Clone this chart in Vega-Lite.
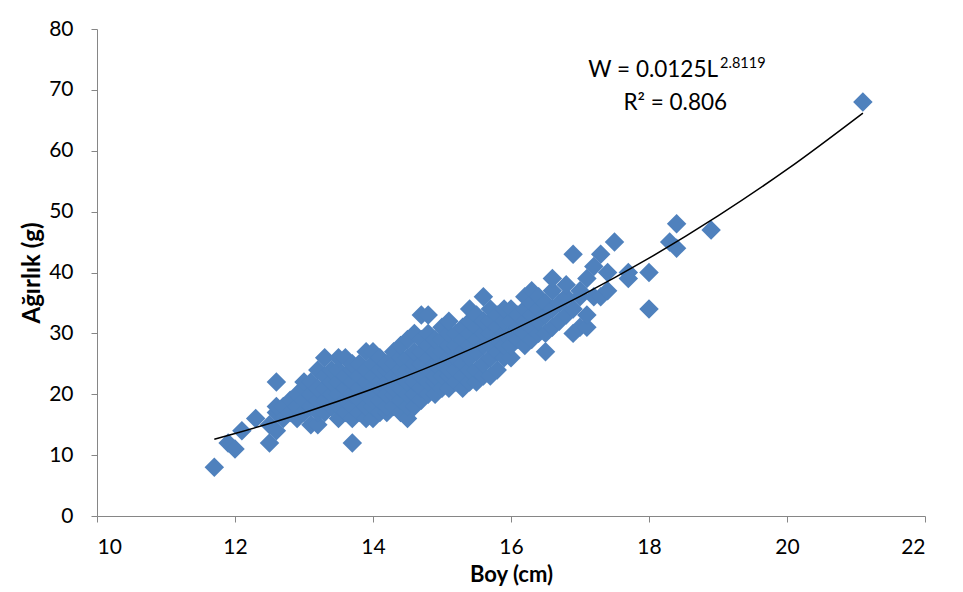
{
  "$schema": "https://vega.github.io/schema/vega-lite/v6.json",
  "width": 828,
  "height": 487,
  "autosize": {"type": "none"},
  "padding": {"left": 97, "top": 29, "right": 38, "bottom": 76},
  "background": "white",
  "config": {
    "view": {"stroke": null},
    "font": "Lato",
    "axis": {
      "grid": false,
      "domainColor": "#868686",
      "tickColor": "#868686",
      "tickSize": 6,
      "labelFont": "Lato",
      "labelFontSize": 21,
      "labelColor": "#000000",
      "titleFont": "Lato",
      "titleFontWeight": "bold",
      "titleColor": "#000000"
    }
  },
  "datasets": {
    "fish": [
      {"L": 11.7, "W": 8}, {"L": 11.9, "W": 12}, {"L": 12.0, "W": 11}, {"L": 12.1, "W": 14}, {"L": 12.3, "W": 16},
      {"L": 12.5, "W": 12}, {"L": 12.5, "W": 15},
      {"L": 12.6, "W": 14}, {"L": 12.6, "W": 17}, {"L": 12.6, "W": 18}, {"L": 12.6, "W": 22},
      {"L": 12.7, "W": 16}, {"L": 12.7, "W": 18},
      {"L": 12.8, "W": 17}, {"L": 12.8, "W": 19},
      {"L": 12.9, "W": 16}, {"L": 12.9, "W": 18}, {"L": 12.9, "W": 20},
      {"L": 13.0, "W": 17}, {"L": 13.0, "W": 19}, {"L": 13.0, "W": 21}, {"L": 13.0, "W": 22},
      {"L": 13.1, "W": 15}, {"L": 13.1, "W": 18}, {"L": 13.1, "W": 20}, {"L": 13.1, "W": 22},
      {"L": 13.2, "W": 15}, {"L": 13.2, "W": 17}, {"L": 13.2, "W": 19}, {"L": 13.2, "W": 21}, {"L": 13.2, "W": 24},
      {"L": 13.3, "W": 17}, {"L": 13.3, "W": 19}, {"L": 13.3, "W": 21}, {"L": 13.3, "W": 23}, {"L": 13.3, "W": 26},
      {"L": 13.4, "W": 18}, {"L": 13.4, "W": 20}, {"L": 13.4, "W": 22}, {"L": 13.4, "W": 24},
      {"L": 13.5, "W": 16}, {"L": 13.5, "W": 18}, {"L": 13.5, "W": 20}, {"L": 13.5, "W": 22}, {"L": 13.5, "W": 24}, {"L": 13.5, "W": 26},
      {"L": 13.6, "W": 17}, {"L": 13.6, "W": 19}, {"L": 13.6, "W": 21}, {"L": 13.6, "W": 23}, {"L": 13.6, "W": 26},
      {"L": 13.7, "W": 12}, {"L": 13.7, "W": 16}, {"L": 13.7, "W": 18}, {"L": 13.7, "W": 20}, {"L": 13.7, "W": 22}, {"L": 13.7, "W": 24}, {"L": 13.7, "W": 25},
      {"L": 13.8, "W": 17}, {"L": 13.8, "W": 19}, {"L": 13.8, "W": 21}, {"L": 13.8, "W": 23}, {"L": 13.8, "W": 25},
      {"L": 13.9, "W": 16}, {"L": 13.9, "W": 18}, {"L": 13.9, "W": 20}, {"L": 13.9, "W": 22}, {"L": 13.9, "W": 24}, {"L": 13.9, "W": 27},
      {"L": 14.0, "W": 16}, {"L": 14.0, "W": 18}, {"L": 14.0, "W": 19}, {"L": 14.0, "W": 21}, {"L": 14.0, "W": 23}, {"L": 14.0, "W": 25}, {"L": 14.0, "W": 27},
      {"L": 14.1, "W": 17}, {"L": 14.1, "W": 19}, {"L": 14.1, "W": 21}, {"L": 14.1, "W": 22}, {"L": 14.1, "W": 24}, {"L": 14.1, "W": 26},
      {"L": 14.2, "W": 17}, {"L": 14.2, "W": 18}, {"L": 14.2, "W": 20}, {"L": 14.2, "W": 22}, {"L": 14.2, "W": 24}, {"L": 14.2, "W": 25},
      {"L": 14.3, "W": 18}, {"L": 14.3, "W": 20}, {"L": 14.3, "W": 21}, {"L": 14.3, "W": 23}, {"L": 14.3, "W": 25}, {"L": 14.3, "W": 27},
      {"L": 14.4, "W": 17}, {"L": 14.4, "W": 19}, {"L": 14.4, "W": 21}, {"L": 14.4, "W": 23}, {"L": 14.4, "W": 24}, {"L": 14.4, "W": 26}, {"L": 14.4, "W": 28},
      {"L": 14.5, "W": 16}, {"L": 14.5, "W": 18}, {"L": 14.5, "W": 20}, {"L": 14.5, "W": 22}, {"L": 14.5, "W": 24}, {"L": 14.5, "W": 26}, {"L": 14.5, "W": 29},
      {"L": 14.6, "W": 18}, {"L": 14.6, "W": 20}, {"L": 14.6, "W": 22}, {"L": 14.6, "W": 24}, {"L": 14.6, "W": 25}, {"L": 14.6, "W": 27}, {"L": 14.6, "W": 30},
      {"L": 14.7, "W": 19}, {"L": 14.7, "W": 21}, {"L": 14.7, "W": 23}, {"L": 14.7, "W": 25}, {"L": 14.7, "W": 27}, {"L": 14.7, "W": 29}, {"L": 14.7, "W": 33},
      {"L": 14.8, "W": 20}, {"L": 14.8, "W": 22}, {"L": 14.8, "W": 24}, {"L": 14.8, "W": 26}, {"L": 14.8, "W": 28}, {"L": 14.8, "W": 30}, {"L": 14.8, "W": 33},
      {"L": 14.9, "W": 20}, {"L": 14.9, "W": 22}, {"L": 14.9, "W": 23}, {"L": 14.9, "W": 25}, {"L": 14.9, "W": 27}, {"L": 14.9, "W": 29},
      {"L": 15.0, "W": 21}, {"L": 15.0, "W": 23}, {"L": 15.0, "W": 25}, {"L": 15.0, "W": 27}, {"L": 15.0, "W": 29}, {"L": 15.0, "W": 31},
      {"L": 15.1, "W": 21}, {"L": 15.1, "W": 23}, {"L": 15.1, "W": 24}, {"L": 15.1, "W": 26}, {"L": 15.1, "W": 28}, {"L": 15.1, "W": 30}, {"L": 15.1, "W": 32},
      {"L": 15.2, "W": 22}, {"L": 15.2, "W": 24}, {"L": 15.2, "W": 26}, {"L": 15.2, "W": 28}, {"L": 15.2, "W": 30},
      {"L": 15.3, "W": 21}, {"L": 15.3, "W": 23}, {"L": 15.3, "W": 25}, {"L": 15.3, "W": 27}, {"L": 15.3, "W": 29}, {"L": 15.3, "W": 31},
      {"L": 15.4, "W": 22}, {"L": 15.4, "W": 24}, {"L": 15.4, "W": 26}, {"L": 15.4, "W": 28}, {"L": 15.4, "W": 30}, {"L": 15.4, "W": 32}, {"L": 15.4, "W": 34},
      {"L": 15.5, "W": 22}, {"L": 15.5, "W": 24}, {"L": 15.5, "W": 27}, {"L": 15.5, "W": 29}, {"L": 15.5, "W": 31}, {"L": 15.5, "W": 33},
      {"L": 15.6, "W": 23}, {"L": 15.6, "W": 25}, {"L": 15.6, "W": 28}, {"L": 15.6, "W": 30}, {"L": 15.6, "W": 32}, {"L": 15.6, "W": 36},
      {"L": 15.7, "W": 23}, {"L": 15.7, "W": 26}, {"L": 15.7, "W": 28}, {"L": 15.7, "W": 30}, {"L": 15.7, "W": 32}, {"L": 15.7, "W": 34},
      {"L": 15.8, "W": 24}, {"L": 15.8, "W": 27}, {"L": 15.8, "W": 29}, {"L": 15.8, "W": 31}, {"L": 15.8, "W": 33},
      {"L": 15.9, "W": 26}, {"L": 15.9, "W": 28}, {"L": 15.9, "W": 30}, {"L": 15.9, "W": 32}, {"L": 15.9, "W": 34},
      {"L": 16.0, "W": 26}, {"L": 16.0, "W": 28}, {"L": 16.0, "W": 30}, {"L": 16.0, "W": 32}, {"L": 16.0, "W": 34},
      {"L": 16.1, "W": 29}, {"L": 16.1, "W": 31}, {"L": 16.1, "W": 33},
      {"L": 16.2, "W": 28}, {"L": 16.2, "W": 30}, {"L": 16.2, "W": 32}, {"L": 16.2, "W": 34}, {"L": 16.2, "W": 36},
      {"L": 16.3, "W": 29}, {"L": 16.3, "W": 31}, {"L": 16.3, "W": 33}, {"L": 16.3, "W": 35}, {"L": 16.3, "W": 37},
      {"L": 16.4, "W": 30}, {"L": 16.4, "W": 32}, {"L": 16.4, "W": 34}, {"L": 16.4, "W": 36},
      {"L": 16.5, "W": 27}, {"L": 16.5, "W": 30}, {"L": 16.5, "W": 33}, {"L": 16.5, "W": 35},
      {"L": 16.6, "W": 31}, {"L": 16.6, "W": 34}, {"L": 16.6, "W": 37}, {"L": 16.6, "W": 39},
      {"L": 16.7, "W": 32}, {"L": 16.7, "W": 35},
      {"L": 16.8, "W": 33}, {"L": 16.8, "W": 36}, {"L": 16.8, "W": 38},
      {"L": 16.9, "W": 30}, {"L": 16.9, "W": 34}, {"L": 16.9, "W": 43},
      {"L": 17.0, "W": 31}, {"L": 17.0, "W": 36}, {"L": 17.0, "W": 37},
      {"L": 17.1, "W": 31}, {"L": 17.1, "W": 33}, {"L": 17.1, "W": 39},
      {"L": 17.2, "W": 36}, {"L": 17.2, "W": 41},
      {"L": 17.3, "W": 36}, {"L": 17.3, "W": 43},
      {"L": 17.4, "W": 37}, {"L": 17.4, "W": 40},
      {"L": 17.5, "W": 45},
      {"L": 17.7, "W": 39}, {"L": 17.7, "W": 40},
      {"L": 18.0, "W": 34}, {"L": 18.0, "W": 40},
      {"L": 18.3, "W": 45}, {"L": 18.4, "W": 44}, {"L": 18.4, "W": 48},
      {"L": 18.9, "W": 47},
      {"L": 21.1, "W": 68}
    ],
    "trend": [
      {"L": 11.7, "W": 12.6}, {"L": 12, "W": 13.55}, {"L": 13, "W": 16.97}, {"L": 14, "W": 20.9},
      {"L": 15, "W": 25.36}, {"L": 16, "W": 30.42}, {"L": 17, "W": 36.07}, {"L": 18, "W": 42.35},
      {"L": 19, "W": 49.3}, {"L": 20, "W": 56.93}, {"L": 21.1, "W": 66.19}
    ],
    "notes": [
      {"label": "W = 0.0125L", "L": 19.0, "W": 73.2, "kind": "main"},
      {"label": "2.8119", "L": 19.03, "W": 74.3, "kind": "sup"},
      {"label": "R² = 0.806", "L": 18.38, "W": 67.9, "kind": "r2"}
    ]
  },
  "layer": [
    {
      "data": {"name": "fish"},
      "mark": {"type": "point", "shape": "diamond", "filled": true, "size": 380, "opacity": 1, "color": "#4F81BD", "strokeWidth": 0},
      "encoding": {
        "x": {"field": "L", "type": "quantitative",
              "scale": {"domain": [10, 22], "nice": false, "zero": false},
              "axis": {"values": [10, 12, 14, 16, 18, 20, 22], "format": "d", "title": "Boy (cm)", "titleFontSize": 22, "labelPadding": 14, "titlePadding": 7}},
        "y": {"field": "W", "type": "quantitative",
              "scale": {"domain": [0, 80], "nice": false},
              "axis": {"values": [0, 10, 20, 30, 40, 50, 60, 70, 80], "format": "d", "title": "Ağırlık (g)", "titleFontSize": 24, "labelPadding": 18, "titlePadding": 4}}
      }
    },
    {
      "data": {"name": "trend"},
      "mark": {"type": "line", "color": "#000000", "strokeWidth": 1.5, "interpolate": "monotone"},
      "encoding": {
        "x": {"field": "L", "type": "quantitative"},
        "y": {"field": "W", "type": "quantitative"}
      }
    },
    {
      "data": {"name": "notes"},
      "transform": [{"filter": "datum.kind === 'main'"}],
      "mark": {"type": "text", "align": "right", "baseline": "middle", "fontSize": 22.5, "font": "Lato", "color": "#000000"},
      "encoding": {
        "x": {"field": "L", "type": "quantitative"},
        "y": {"field": "W", "type": "quantitative"},
        "text": {"field": "label"}
      }
    },
    {
      "data": {"name": "notes"},
      "transform": [{"filter": "datum.kind === 'sup'"}],
      "mark": {"type": "text", "align": "left", "baseline": "middle", "fontSize": 14.5, "font": "Lato", "color": "#000000"},
      "encoding": {
        "x": {"field": "L", "type": "quantitative"},
        "y": {"field": "W", "type": "quantitative"},
        "text": {"field": "label"}
      }
    },
    {
      "data": {"name": "notes"},
      "transform": [{"filter": "datum.kind === 'r2'"}],
      "mark": {"type": "text", "align": "center", "baseline": "middle", "fontSize": 22.5, "font": "Lato", "color": "#000000"},
      "encoding": {
        "x": {"field": "L", "type": "quantitative"},
        "y": {"field": "W", "type": "quantitative"},
        "text": {"field": "label"}
      }
    }
  ]
}
